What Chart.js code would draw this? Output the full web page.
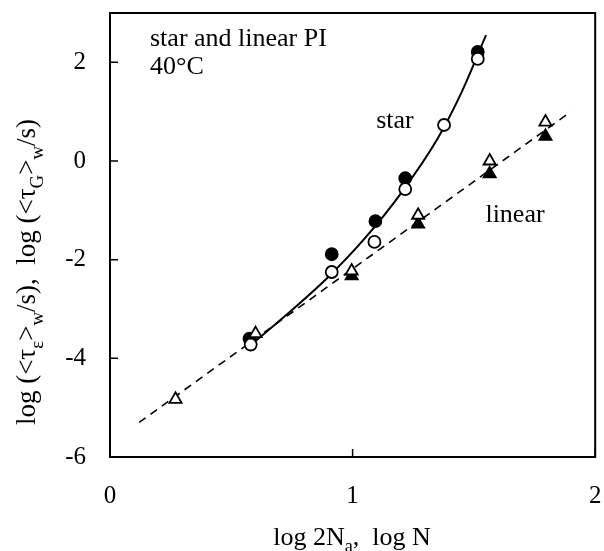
<!DOCTYPE html>
<html>
<head>
<meta charset="utf-8">
<script src="https://cdn.jsdelivr.net/npm/chart.js@4"></script>
<style>
  html, body { margin: 0; padding: 0; background: #fff; }
  #wrap { width: 604px; height: 551px; }
</style>
</head>
<body>
<div id="wrap"><canvas id="chart"></canvas></div>
<script>
// star PI, filled circles (tau_G) and open circles (tau_eps)
const starFilledX = [0.575, 0.914, 1.094, 1.217, 1.516];
const starFilledY = [-3.60, -1.89, -1.22, -0.35, 2.21];
const starOpenX = [0.58, 0.914, 1.09, 1.217, 1.377, 1.516];
const starOpenY = [-3.72, -2.25, -1.64, -0.57, 0.73, 2.07];

// linear PI, open / filled triangles
const linOpenX = [0.27, 0.60, 0.996, 1.27, 1.565, 1.795];
const linOpenY = [-4.83, -3.50, -2.23, -1.10, 0.00, 0.79];
const linFilledX = [0.996, 1.27, 1.565, 1.795];
const linFilledY = [-2.33, -1.28, -0.26, 0.50];

// fitted curves
const starFitX = [0.60, 0.75, 0.90, 1.05, 1.20, 1.35, 1.45, 1.55];
const starFitY = [-3.65, -3.02, -2.35, -1.57, -0.65, 0.45, 1.40, 2.55];
const linFitX = [0.12, 1.90];
const linFitY = [-5.30, 1.00];

const xTicks = [0, 1, 2];
const yTicks = [-6, -4, -2, 0, 2];

const FONT = '"Liberation Serif", "DejaVu Serif", serif';
const zip = (xs, ys) => xs.map((x, i) => ({ x: x, y: ys[i] }));

const pointSet = (label, xs, ys, style, filled, order) => ({
  label: label,
  data: zip(xs, ys),
  showLine: false,
  pointStyle: style,
  pointRadius: style === 'triangle' ? 7 : 6,
  pointBorderWidth: 1.8,
  pointBorderColor: '#000',
  pointBackgroundColor: filled ? '#000' : '#fff',
  order: order
});

// draw rich text (with subscripts) centred at x,y
const drawRich = (ctx, parts, cx, cy, size) => {
  const sub = size * 0.7;
  let total = 0;
  parts.forEach(p => {
    ctx.font = `${p.sub ? sub : size}px ${FONT}`;
    total += ctx.measureText(p.t).width;
  });
  let x = cx - total / 2;
  ctx.textBaseline = 'alphabetic';
  ctx.textAlign = 'left';
  parts.forEach(p => {
    ctx.font = `${p.sub ? sub : size}px ${FONT}`;
    ctx.fillText(p.t, x, cy + (p.sub ? size * 0.28 : 0));
    x += ctx.measureText(p.t).width;
  });
};

const decor = {
  id: 'decor',
  afterDatasetsDraw(chart) {
    const { ctx, chartArea: a, scales } = chart;
    ctx.save();
    ctx.strokeStyle = '#000';
    ctx.lineWidth = 2;
    ctx.strokeRect(a.left, a.top, a.right - a.left, a.bottom - a.top);

    // inward tick marks
    ctx.lineWidth = 1.5;
    ctx.beginPath();
    yTicks.forEach(v => {
      const py = scales.y.getPixelForValue(v);
      ctx.moveTo(a.left, py);
      ctx.lineTo(a.left + 8, py);
    });
    xTicks.forEach(v => {
      const px = scales.x.getPixelForValue(v);
      ctx.moveTo(px, a.bottom);
      ctx.lineTo(px, a.bottom - 8);
    });
    ctx.stroke();

    ctx.fillStyle = '#000';
    ctx.font = `26px ${FONT}`;
    ctx.textAlign = 'left';
    ctx.textBaseline = 'alphabetic';
    ctx.fillText('star and linear PI', 150, 46);
    ctx.fillText('40°C', 150, 74);
    ctx.textAlign = 'center';
    ctx.textBaseline = 'middle';
    ctx.fillText('star', 395, 121);
    ctx.fillText('linear', 515, 215);

    // axis titles
    drawRich(ctx, [
      { t: 'log 2N' }, { t: 'a', sub: true }, { t: ',  log N' }
    ], 352, 545, 26);

    ctx.translate(35, 272);
    ctx.rotate(-Math.PI / 2);
    drawRich(ctx, [
      { t: 'log (<τ' }, { t: 'ε', sub: true }, { t: '>' }, { t: 'w', sub: true },
      { t: '/s),  log (<τ' }, { t: 'G', sub: true }, { t: '>' }, { t: 'w', sub: true },
      { t: '/s)' }
    ], 0, 0, 27);
    ctx.restore();
  }
};

new Chart(document.getElementById('chart'), {
  type: 'scatter',
  data: {
    datasets: [
      pointSet('star open', starOpenX, starOpenY, 'circle', false, 1),
      pointSet('linear open', linOpenX, linOpenY, 'triangle', false, 1),
      pointSet('star filled', starFilledX, starFilledY, 'circle', true, 2),
      pointSet('linear filled', linFilledX, linFilledY, 'triangle', true, 2),
      {
        label: 'star fit',
        data: zip(starFitX, starFitY),
        showLine: true,
        borderColor: '#000',
        borderWidth: 2,
        pointRadius: 0,
        cubicInterpolationMode: 'monotone',
        order: 3
      },
      {
        label: 'linear fit',
        data: zip(linFitX, linFitY),
        showLine: true,
        borderColor: '#000',
        borderWidth: 1.6,
        borderDash: [8, 6],
        pointRadius: 0,
        order: 3
      }
    ]
  },
  options: {
    responsive: true,
    maintainAspectRatio: false,
    animation: false,
    layout: { padding: { top: 13, right: 6, left: 0, bottom: 0 } },
    plugins: { legend: { display: false }, tooltip: { enabled: false } },
    scales: {
      x: {
        type: 'linear',
        min: 0, max: 2,
        afterBuildTicks: s => { s.ticks = xTicks.map(v => ({ value: v })); },
        afterFit: s => { s.height = 94; s.paddingLeft = 0; s.paddingRight = 0; },
        grid: { display: false },
        border: { display: false },
        ticks: { color: '#000', padding: 16, font: { family: FONT, size: 25 } }
      },
      y: {
        type: 'linear',
        min: -6, max: 3,
        afterBuildTicks: s => { s.ticks = yTicks.map(v => ({ value: v })); },
        afterFit: s => { s.width = 110; s.paddingTop = 0; s.paddingBottom = 0; },
        grid: { display: false },
        border: { display: false },
        ticks: { color: '#000', padding: 16, font: { family: FONT, size: 25 } }
      }
    }
  },
  plugins: [decor]
});
</script>
</body>
</html>
